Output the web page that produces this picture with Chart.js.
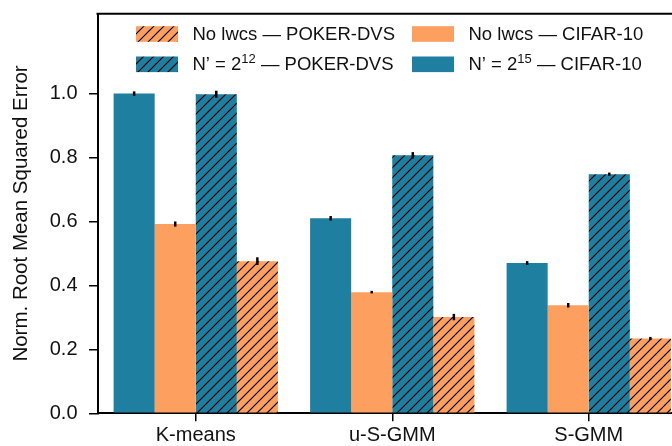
<!DOCTYPE html>
<html>
<head>
<meta charset="utf-8">
<script src="https://cdn.jsdelivr.net/npm/chart.js@4/dist/chart.umd.min.js"></script>
<style>
  html, body { margin: 0; padding: 0; background: #fff; overflow: hidden; }
  canvas { display: block; }
</style>
</head>
<body>
<canvas id="chart" width="687" height="446" style="width:687px;height:446px"></canvas>
<script>
// values
const categories = ['K-means', 'u-S-GMM', 'S-GMM'];
const cifarFull = [1.0, 0.61, 0.47];        // N' = 2^15 - CIFAR-10
const cifarNoLwcs = [0.592, 0.379, 0.338];  // No lwcs - CIFAR-10
const pokerFull = [0.998, 0.807, 0.748];    // N' = 2^12 - POKER-DVS
const pokerNoLwcs = [0.476, 0.301, 0.234];  // No lwcs - POKER-DVS
const cifarFullErr = [0.007, 0.007, 0.006];
const cifarNoLwcsErr = [0.008, 0.004, 0.007];
const pokerFullErr = [0.011, 0.010, 0.005];
const pokerNoLwcsErr = [0.012, 0.010, 0.005];
const yTicks = [0.0, 0.2, 0.4, 0.6, 0.8, 1.0];

const TEAL = '#1f7fa0';
const ORANGE = '#fd9f5f';
const FONT = '"Liberation Sans", Arial, Helvetica, sans-serif';

// diagonal "/" hatching
function hatch(color) {
  const c = document.createElement('canvas');
  c.width = 10; c.height = 10;
  const g = c.getContext('2d');
  g.fillStyle = color;
  g.fillRect(0, 0, 10, 10);
  g.strokeStyle = '#000';
  g.lineWidth = 1.2;
  g.beginPath();
  g.moveTo(-1, 11); g.lineTo(11, -1);
  g.moveTo(-6, 6); g.lineTo(6, -6);
  g.moveTo(4, 16); g.lineTo(16, 4);
  g.stroke();
  return g.createPattern(c, 'repeat');
}
const tealHatch = hatch(TEAL);
const orangeHatch = hatch(ORANGE);

const errors = [cifarFullErr, cifarNoLwcsErr, pokerFullErr, pokerNoLwcsErr];

const errorBars = {
  id: 'errorBars',
  afterDatasetsDraw(chart) {
    const ctx = chart.ctx;
    const y = chart.scales.y;
    ctx.save();
    ctx.strokeStyle = '#000';
    ctx.lineWidth = 2.5;
    chart.data.datasets.forEach((ds, i) => {
      chart.getDatasetMeta(i).data.forEach((bar, j) => {
        const v = ds.data[j], e = errors[i][j];
        ctx.beginPath();
        ctx.moveTo(bar.x, y.getPixelForValue(v - e));
        ctx.lineTo(bar.x, y.getPixelForValue(v + e));
        ctx.stroke();
      });
    });
    ctx.restore();
  }
};

// legend entries: [fill, text parts]; a part with sup:true is a superscript
const legendItems = [
  { fill: orangeHatch, col: 0, row: 0, parts: [{ t: 'No lwcs \u2014 POKER-DVS' }] },
  { fill: ORANGE, col: 1, row: 0, parts: [{ t: 'No lwcs \u2014 CIFAR-10' }] },
  { fill: tealHatch, col: 0, row: 1, parts: [{ t: 'N\u2019 = 2' }, { t: '12', sup: true }, { t: ' \u2014 POKER-DVS' }] },
  { fill: TEAL, col: 1, row: 1, parts: [{ t: 'N\u2019 = 2' }, { t: '15', sup: true }, { t: ' \u2014 CIFAR-10' }] }
];

const frameAndLegend = {
  id: 'frameAndLegend',
  afterDraw(chart) {
    const ctx = chart.ctx;
    const a = chart.chartArea;
    ctx.save();
    // top spine
    ctx.strokeStyle = '#000';
    ctx.lineWidth = 2;
    ctx.beginPath();
    ctx.moveTo(a.left - 1, a.top);
    ctx.lineTo(a.right, a.top);
    ctx.stroke();

    const colX = [136, 412];
    const rowY = [34, 64.3];
    legendItems.forEach(it => {
      const x = colX[it.col], yc = rowY[it.row];
      ctx.fillStyle = it.fill;
      ctx.fillRect(x, yc - 7.8, 42, 15.6);
      let tx = x + 56.5;
      const base = yc + 5.6;
      it.parts.forEach(p => {
        ctx.fillStyle = '#111';
        ctx.textBaseline = 'alphabetic';
        ctx.textAlign = 'left';
        if (p.sup) {
          ctx.font = '13px ' + FONT;
          ctx.fillText(p.t, tx, base - 6.7);
        } else {
          ctx.font = '18.5px ' + FONT;
          ctx.fillText(p.t, tx, base);
        }
        tx += ctx.measureText(p.t).width;
      });
    });
    ctx.restore();
  }
};

new Chart(document.getElementById('chart'), {
  type: 'bar',
  data: {
    labels: categories,
    datasets: [
      { label: "N' = 2^15 - CIFAR-10", data: cifarFull, backgroundColor: TEAL },
      { label: 'No lwcs - CIFAR-10', data: cifarNoLwcs, backgroundColor: ORANGE },
      { label: "N' = 2^12 - POKER-DVS", data: pokerFull, backgroundColor: tealHatch },
      { label: 'No lwcs - POKER-DVS', data: pokerNoLwcs, backgroundColor: orangeHatch }
    ]
  },
  options: {
    responsive: false,
    animation: false,
    devicePixelRatio: 1,
    layout: { padding: { top: 13.7, right: 0, bottom: 0, left: 0 } },
    datasets: {
      bar: { categoryPercentage: 0.836, barPercentage: 1.0, borderWidth: 0 }
    },
    plugins: {
      legend: { display: false },
      tooltip: { enabled: false }
    },
    scales: {
      x: {
        afterFit(scale) {
          scale.height = 32.7;
          scale.paddingLeft = 0; scale.paddingRight = 0;
        },
        grid: {
          offset: false, drawOnChartArea: false, drawTicks: true,
          tickLength: 8, color: '#000', lineWidth: 1.5
        },
        border: { display: true, color: '#000', width: 2 },
        ticks: { color: '#111', padding: 2, font: { family: FONT, size: 20 } }
      },
      y: {
        min: 0,
        max: 1.25,
        afterFit(scale) {
          scale.width = 97.5;
          scale.paddingTop = 0; scale.paddingBottom = 0;
        },
        afterBuildTicks(scale) { scale.ticks = yTicks.map(v => ({ value: v })); },
        grid: {
          drawOnChartArea: false, drawTicks: true,
          tickLength: 8.5, color: '#000', lineWidth: 1.5
        },
        border: { display: true, color: '#000', width: 2 },
        ticks: {
          color: '#111', padding: 11.5,
          font: { family: FONT, size: 20 },
          callback: v => Number(v).toFixed(1)
        },
        title: {
          display: true,
          text: 'Norm. Root Mean Squared Error',
          color: '#111',
          padding: { top: 9.5, bottom: 0 },
          font: { family: FONT, size: 20.5, lineHeight: 1.2 }
        }
      }
    }
  },
  plugins: [errorBars, frameAndLegend]
});
</script>
</body>
</html>
